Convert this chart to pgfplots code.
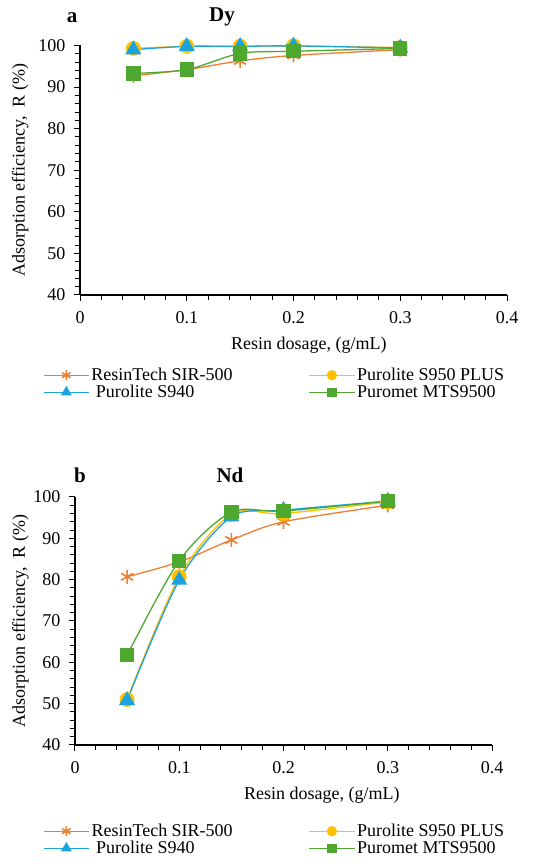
\documentclass[border=0pt]{standalone}
\usepackage{pgfplots}
\pgfplotsset{compat=1.18}
\usepackage{fontspec}
\setmainfont{Liberation Serif}
\newfontfamily\tfont{Liberation Serif}
\definecolor{cOr}{HTML}{ED7D31}
\definecolor{cYe}{HTML}{FFC000}
\definecolor{cBl}{HTML}{1CA2DC}
\definecolor{cGr}{HTML}{4EA72E}
\newcommand\fs{\tfont\fontsize{18}{21}\selectfont}
\pgfplotsset{
 myaxis/.style={
  scale only axis, xmin=0,xmax=0.4,ymin=40,ymax=100,
  xtick={0,0.1,0.2,0.3,0.4}, ytick={40,50,60,70,80,90,100},
  xticklabels={{\fs 0},{\fs 0.1},{\fs 0.2},{\fs 0.3},{\fs 0.4}},
  yticklabels={{\fs 40},{\fs 50},{\fs 60},{\fs 70},{\fs 80},{\fs 90},{\fs 100}},
  minor x tick num=4, minor y tick num=4,
  axis x line*=bottom, axis y line*=left,
  axis line style={black, line width=1.2pt, -},
  tick align=outside, major tick length=6pt, minor tick length=5pt,
  every tick/.style={black, line width=1pt},
  tick label style={font=\fs},
  xticklabel style={yshift=-7pt},
  yticklabel style={xshift=-5pt},
  /pgf/number format/assume math mode=true,
  clip=false,
  legend columns=2, legend cell align=left,
  legend style={draw=none, fill=none, font=\fs, anchor=north west, inner sep=0pt, row sep=-1pt,
    /tikz/every even column/.append style={column sep=74pt}},
  legend image code/.code={\draw[mark repeat=2,mark phase=2] plot coordinates {(0pt,0pt) (22.5pt,0pt) (45pt,0pt)};},
 },
 sOr/.style={color=cOr, line width=1.3pt, smooth, mark=asterisk, mark size=7pt, mark options={line width=1.6pt}, legend image post style={mark size=5pt}},
 sYe/.style={color=cYe, line width=1.3pt, smooth, mark=*, mark size=6.8pt, mark options={fill=cYe}, legend image post style={mark size=4.5pt}},
 sBl/.style={color=cBl, line width=1.3pt, smooth, mark=triangle*, mark size=8pt, mark options={fill=cBl}, legend image post style={mark size=5pt}},
 sGr/.style={color=cGr, line width=1.3pt, smooth, mark=square*, mark size=6.5pt, mark options={fill=cGr}, legend image post style={mark size=4pt}},
}
\begin{document}
\begin{tikzpicture}
\path[use as bounding box] (0,0) rectangle (550pt,868pt);
% panel a
\begin{axis}[myaxis, at={(80pt,573pt)}, anchor=south west, width=427pt, height=249.5pt,
  xlabel={Resin dosage, (g/mL)},
  ylabel={Adsorption efficiency,\ \ R (\%)},
  every axis x label/.style={at={(axis description cs:0.536,-0.200)}, anchor=center, font=\fs},
  every axis y label/.style={at={(axis description cs:-0.140,0.5)}, rotate=90, anchor=center, font=\fs},
  legend style={at={(axis description cs:-0.0867,-0.2846)}}]
\addplot[sOr] coordinates {(0.05,92.7) (0.1,94.2) (0.15,96.3) (0.2,97.6) (0.3,99.0)};
\addlegendentry{ResinTech SIR-500}
\addplot[sYe] coordinates {(0.05,99.3) (0.1,99.8) (0.15,99.8) (0.2,99.9) (0.3,99.5)};
\addlegendentry{Purolite S950 PLUS}
\addplot[sBl] coordinates {(0.05,99.0) (0.1,99.8) (0.15,99.8) (0.2,99.9) (0.3,99.4)};
\addlegendentry{\ Purolite S940}
\addplot[sGr] coordinates {(0.05,93.3) (0.1,94.2) (0.15,98.1) (0.2,98.6) (0.3,99.3)};
\addlegendentry{Puromet MTS9500}
\end{axis}
\node[font=\tfont\fontsize{21}{24}\selectfont\bfseries] at (72pt,850pt) {a};
\node[font=\tfont\fontsize{21}{24}\selectfont\bfseries] at (222pt,851pt) {Dy};
% panel b
\begin{axis}[myaxis, at={(75pt,123pt)}, anchor=south west, width=417pt, height=248pt,
  xlabel={Resin dosage, (g/mL)},
  ylabel={Adsorption efficiency,\ \ R (\%)},
  every axis x label/.style={at={(axis description cs:0.592,-0.2016)}, anchor=center, font=\fs},
  every axis y label/.style={at={(axis description cs:-0.131,0.5)}, rotate=90, anchor=center, font=\fs},
  legend style={at={(axis description cs:-0.0767,-0.3105)}}]
\addplot[sOr] coordinates {(0.05,80.7) (0.1,84.3) (0.15,89.6) (0.2,94.0) (0.3,98.0)};
\addlegendentry{ResinTech SIR-500}
\addplot[sYe] coordinates {(0.05,51.0) (0.1,80.7) (0.15,95.8) (0.2,96.0) (0.3,98.8)};
\addlegendentry{Purolite S950 PLUS}
\addplot[sBl] coordinates {(0.05,50.8) (0.1,79.9) (0.15,95.2) (0.2,96.8) (0.3,99.0)};
\addlegendentry{\ Purolite S940}
\addplot[sGr] coordinates {(0.05,61.7) (0.1,84.6) (0.15,96.3) (0.2,96.6) (0.3,99.0)};
\addlegendentry{Puromet MTS9500}
\end{axis}
\node[font=\tfont\fontsize{21}{24}\selectfont\bfseries] at (80pt,393pt) {b};
\node[font=\tfont\fontsize{21}{24}\selectfont\bfseries] at (230pt,393pt) {Nd};
\end{tikzpicture}
\end{document}
